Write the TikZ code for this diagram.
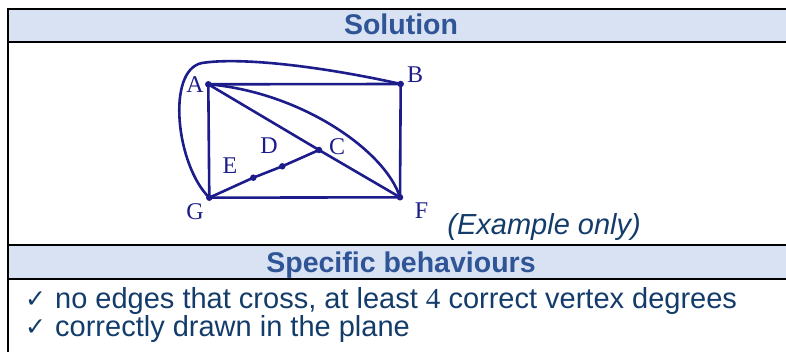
\documentclass[tikz,border=0pt]{standalone}
\usepackage{fontspec}
\setmainfont{Liberation Sans}
\newfontfamily\labelfont{Liberation Serif}
\newfontfamily\symfont{DejaVu Sans}
\definecolor{hdrfill}{HTML}{D9E2F3}
\definecolor{hdrtext}{HTML}{2F5597}
\definecolor{bodytext}{HTML}{133C6B}
\definecolor{graphc}{HTML}{1C1C8A}
\tikzset{
  rule/.style={line width=2pt, draw=black},
  vtx/.style={circle, fill=graphc, inner sep=0pt, minimum size=6.5pt},
  edge/.style={draw=graphc, line width=2.6pt, line cap=round},
  vlabel/.style={text=graphc, font=\labelfont\fontsize{24}{24}\selectfont, inner sep=0pt},
  hdr/.style={text=hdrtext, font=\bfseries\fontsize{28.5}{28.5}\selectfont, inner sep=0pt, anchor=base},
  bodyt/.style={text=bodytext, font=\fontsize{29}{29}\selectfont, inner sep=0pt, anchor=base west},
  ckmark/.style={text=bodytext, font=\symfont\fontsize{25}{25}\selectfont, inner sep=0pt, anchor=base west},
}
\begin{document}
\begin{tikzpicture}[x=1pt, y=-1pt]
\useasboundingbox (0,0) rectangle (786,352);
\clip (0,0) rectangle (786,352);
% table
\fill[hdrfill] (8,9) rectangle (800,42);
\fill[hdrfill] (8,245) rectangle (800,279);
\draw[rule] (8,9) -- (800,9);
\draw[rule] (8,42) -- (800,42);
\draw[rule] (8,245) -- (800,245);
\draw[rule] (8,279) -- (800,279);
\draw[rule] (8,8) -- (8,360);
% headers
\node[hdr] (sol) at (401,35) {Solution};
\node[hdr] (spec) at (401,272.5) {Specific behaviours};
% body
\node[ckmark] (ck1) at (25,307) {✓};
\node[bodyt] (t1) at (55,308.5) {no edges that cross, at least {\labelfont 4} correct vertex degrees};
\node[ckmark] (ck2) at (25,335) {✓};
\node[bodyt] (t2) at (55,336) {correctly drawn in the plane};
\node[bodyt, anchor=base east, font=\itshape\fontsize{29}{29}\selectfont] (ex) at (641,234.5) {(Example only)};
% graph
\node[vtx] (A) at (208.3,84.3) {};
\node[vtx] (B) at (400.7,84) {};
\node[vtx] (G) at (209.3,197.7) {};
\node[vtx] (F) at (400,197.3) {};
\node[vtx] (C) at (319,150) {};
\node[vtx] (D) at (282.3,166.3) {};
\node[vtx] (E) at (253.3,177.7) {};
\draw[edge] (A.center) -- (B.center);
\draw[edge] (A.center) -- (G.center);
\draw[edge] (B.center) -- (F.center);
\draw[edge] (G.center) -- (F.center);
\draw[edge] (A.center) -- (C.center);
\draw[edge] (C.center) -- (F.center);
\draw[edge] (G.center) -- (E.center) -- (D.center) -- (C.center);
\draw[edge] (A.center) .. controls (300,92) and (385,150) .. (F.center);
\draw[edge] (G.center) .. controls (176,165) and (166,70) .. (202,63) .. controls (240,57) and (320,66) .. (B.center);
% labels
\node[vlabel] (lA) at (195,84.5) {A};
\node[vlabel] (lB) at (415,74.5) {B};
\node[vlabel] (lC) at (337,147) {C};
\node[vlabel] (lD) at (269,146) {D};
\node[vlabel] (lE) at (230,166) {E};
\node[vlabel] (lG) at (195,212) {G};
\node[vlabel] (lF) at (421.5,211) {F};
\end{tikzpicture}
\end{document}
